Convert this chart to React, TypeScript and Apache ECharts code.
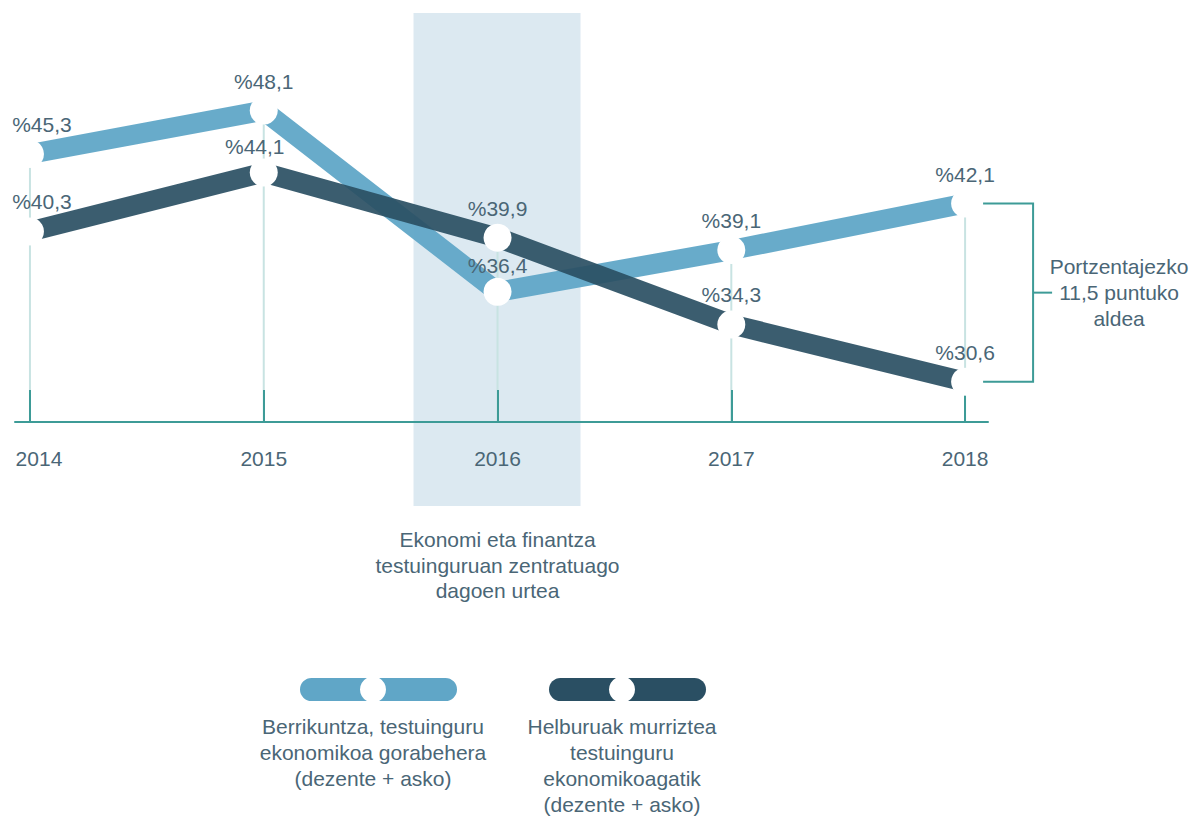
import React, { useEffect, useRef } from "react";
import * as echarts from "echarts";

const years = ["2014", "2015", "2016", "2017", "2018"];
const innovation = [45.3, 48.1, 36.4, 39.1, 42.1];
const reduceGoals = [40.3, 44.1, 39.9, 34.3, 30.6];
const innovationName = ["Berrikuntza, testuinguru", "ekonomikoa gorabehera", "(dezente + asko)"];
const reduceName = ["Helburuak murriztea", "testuinguru", "ekonomikoagatik", "(dezente + asko)"];
const focusYear = "2016";
const focusNote = ["Ekonomi eta finantza", "testuinguruan zentratuago", "dagoen urtea"];
const gapNote = ["Portzentajezko", "11,5 puntuko", "aldea"];

const LIGHT = "#60a6c7";
const DARK = "#2a4f63";
const TEAL = "#3d9b97";
const DROP = "#c8e3e2";
const BAND = "#dce9f1";
const TEXT = "#4a6676";
const FONT = "'Liberation Sans', Arial, sans-serif";
const FS = 21;

const fmt = (v: number) => "%" + v.toFixed(1).replace(".", ",");

export default function App() {
  const ref = useRef<HTMLDivElement>(null);
  useEffect(() => {
    const chart = echarts.init(ref.current!, null, { renderer: "svg" });
    // label nudges (layout only) per point index
    const mkData = (arr: number[], nudges: Record<number, number[]>) =>
      arr.map((v, i) => ({
        value: [i, v],
        label: nudges[i] ? { offset: nudges[i] } : undefined,
      }));
    const labelCfg = {
      show: true,
      position: "top",
      distance: 5,
      formatter: (p: any) => fmt(p.value[1]),
      color: TEXT,
      fontSize: FS,
      fontFamily: FONT,
    };
    const option: any = {
      animation: false,
      grid: { left: 15, right: 204, top: 13, bottom: 394 },
      xAxis: {
        type: "value",
        min: -0.064,
        max: 4.098,
        z: 2,
        splitLine: { show: false },
        axisLine: { show: true, lineStyle: { color: TEAL, width: 2 } },
        axisTick: {
          show: true,
          inside: true,
          length: 32,
          customValues: years.map((_, i) => i),
          lineStyle: { color: TEAL, width: 2 },
        },
        axisLabel: {
          customValues: years.map((_, i) => i),
          formatter: (v: number) => {
            const i = Math.round(v);
            return i === 0 ? "{first|" + years[i] + "}" : years[i];
          },
          rich: { first: { padding: [0, 0, 0, 18], color: TEXT, fontSize: FS, fontFamily: FONT } },
          color: TEXT,
          fontSize: FS,
          fontFamily: FONT,
          margin: 26,
        },
      },
      yAxis: { type: "value", min: 28, max: 54.4, show: false },
      series: [
        {
          type: "bar",
          barWidth: 2,
          silent: true,
          z: 1,
          itemStyle: { color: DROP },
          data: years.map((_, i) => [i, Math.max(innovation[i], reduceGoals[i])]),
        },
        {
          type: "line",
          name: innovationName.join(" "),
          z: 3,
          symbol: "circle",
          symbolSize: 28,
          itemStyle: { color: "#ffffff" },
          lineStyle: { color: LIGHT, width: 20, opacity: 0.95 },
          label: labelCfg,
          data: mkData(innovation, { 0: [12, 0], 2: [0, 3] }),
        },
        {
          type: "line",
          name: reduceName.join(" "),
          z: 4,
          symbol: "circle",
          symbolSize: 28,
          itemStyle: { color: "#ffffff" },
          lineStyle: { color: DARK, width: 20, opacity: 0.92 },
          label: labelCfg,
          data: mkData(reduceGoals, { 0: [12, 0], 1: [-9, 3] }),
        },
      ],
    };
    chart.setOption(option);

    const toPx = (x: number, y: number) =>
      chart.convertToPixel({ xAxisIndex: 0, yAxisIndex: 0 }, [x, y]) as number[];
    const fi = years.indexOf(focusYear);
    const cx = toPx(fi, 40)[0];
    const last = years.length - 1;
    const pTop = toPx(last, innovation[last]);
    const pBot = toPx(last, reduceGoals[last]);
    const mid = (pTop[1] + pBot[1]) / 2;
    const bx = pTop[0] + 68;

    const textStyle = (extra: any) => ({
      fill: TEXT,
      fontSize: FS,
      fontFamily: FONT,
      align: "center",
      verticalAlign: "middle",
      lineHeight: 26,
      ...extra,
    });

    const legendItem = (x0: number, color: string, lines: string[]) => [
      {
        type: "rect",
        shape: { x: x0, y: 678, width: 157, height: 23, r: 11.5 },
        style: { fill: color },
      },
      {
        type: "circle",
        shape: { cx: x0 + 73, cy: 689.5, r: 13 },
        style: { fill: "#ffffff" },
      },
      {
        type: "text",
        x: x0 + 73,
        y: 713,
        style: textStyle({ text: lines.join("\n"), verticalAlign: "top" }),
      },
    ];

    chart.setOption({
      graphic: [
        {
          type: "rect",
          z: -10,
          silent: true,
          shape: { x: cx - 84, y: 13, width: 167, height: 493 },
          style: { fill: BAND },
        },
        {
          type: "text",
          x: cx,
          y: 527,
          style: textStyle({ text: focusNote.join("\n"), verticalAlign: "top", lineHeight: 25.5 }),
        },
        {
          type: "polyline",
          shape: {
            points: [
              [pTop[0] + 18, pTop[1]],
              [bx, pTop[1]],
              [bx, pBot[1]],
              [pBot[0] + 18, pBot[1]],
            ],
          },
          style: { stroke: TEAL, lineWidth: 2, fill: null },
        },
        {
          type: "line",
          shape: { x1: bx, y1: mid, x2: bx + 19, y2: mid },
          style: { stroke: TEAL, lineWidth: 2 },
        },
        {
          type: "text",
          x: bx + 86,
          y: mid,
          style: textStyle({ text: gapNote.join("\n") }),
        },
        ...legendItem(300, LIGHT, innovationName),
        ...legendItem(549, DARK, reduceName),
      ],
    });
    return () => chart.dispose();
  }, []);
  return (
    <div
      ref={ref}
      style={{ position: "fixed", left: 0, top: 0, width: 1192, height: 816, background: "#fff" }}
    />
  );
}
